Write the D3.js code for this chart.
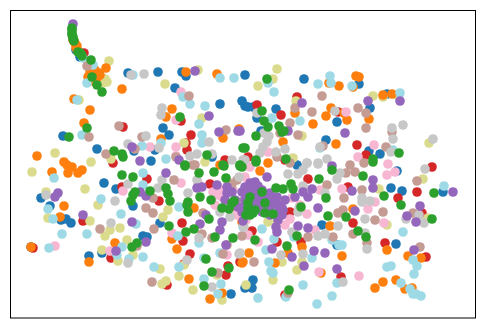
<!DOCTYPE html>
<html>
<head>
<meta charset="utf-8">
<script src="https://cdn.jsdelivr.net/npm/d3@7"></script>
<style>
    html, body { margin: 0; padding: 0; background: #fff; }
    svg { display: block; }
</style>
</head>
<body>
<svg id="scatter" width="485" height="328"></svg>
<script>
// values, one list per colour, in back-to-front order
const blue = [[118,63],[148,62],[172,62],[176,66],[165,78],[210,94],[232,91],[235,65],[53,126],[153,118],[159,125],[87,139],[141,151],[124,141],[145,140],[202,147],[235,96],
    [238,97],[243,97],[247,108],[266,99],[349,74],[360,98],[294,69],[377,84],[327,112],[316,130],[359,141],[370,144],[287,155],[251,121],
    [94,173],[106,179],[31,188],[40,196],[51,210],[56,209],[61,213],[123,196],[150,213],[133,226],[137,227],[79,246],[92,243],[21,237],[235,278],[221,284],
    [381,178],[392,181],[433,182],[386,234],[312,215],[243,270],[242,278],[387,161],[327,235],[66,40],[70,47]];
const red = [[74,43],[113,117],[171,111],[181,125],[176,133],[103,153],[177,140],[215,150],
    [287,87],[247,95],[271,105],[328,102],[347,135],[356,145],[422,157],[238,147],[275,150],
    [137,169],[112,177],[149,191],[73,211],[172,213],[173,231],[23,238],[101,248],[180,244],[174,254],[157,275],[216,265],[218,256],[230,252],[200,174],
    [298,169],[338,177],[407,182],[388,188],[343,213],[375,233],[416,247],[331,267],[291,232],[280,202],[242,221],[267,232],[412,203],[275,285],[225,196],[235,208]];
const khaki = [[99,51],[95,69],[93,73],[155,74],[69,90],[188,60],[192,108],[45,143],[81,152],[101,149],[174,133],[195,152],
    [267,59],[248,76],[263,69],[286,91],[292,126],[363,86],[373,87],[419,133],[283,148],[387,85],
    [22,162],[75,179],[88,195],[36,182],[38,208],[80,211],[110,218],[100,220],[95,226],[117,230],[92,240],[108,251],[123,245],[150,259],[169,266],[156,271],[152,274],[183,280],[212,290],[207,265],[158,200],[153,207],[174,255],
    [413,169],[377,215],[369,179],[292,252],[287,260],[272,252],[263,270],[236,275],[258,212],[418,208],[267,212],[97,72]];
const orange = [[65,33],[96,58],[89,63],[82,65],[80,62],[87,68],[112,79],[64,89],[80,100],[74,113],[27,146],[54,152],[176,62],[207,64],[162,99],[156,107],[151,129],[229,119],[213,128],[63,30],[67,36],
    [346,66],[349,67],[319,73],[329,76],[343,77],[373,85],[382,84],[285,103],[303,114],[316,106],[321,98],[334,103],[337,110],[359,109],[326,134],[273,132],[258,153],
    [42,162],[57,155],[62,157],[58,163],[68,163],[72,160],[54,196],[50,207],[105,233],[79,252],[21,237],[162,229],[167,239],[179,269],[200,289],[212,283],[184,198],[210,155],[232,253],[232,212],
    [250,161],[239,243],[233,252],[265,253],[278,243],[292,237],[332,246],[311,263],[320,216],[343,199],[377,240],[398,246],[411,248],[365,278],[373,272],[386,270],[395,279],[402,278],
    [64,31],[66,38],[68,41],[85,60],[78,67],[85,72],[90,65],[82,60]];
const pink = [[171,82],[166,110],[140,137],[166,137],[166,146],[258,142],[364,135],[348,147],[378,154],[336,102],
    [171,173],[45,236],[113,181],[100,241],[162,223],[203,182],[207,185],[228,202],[188,173],[217,245],[235,167],
    [240,157],[377,165],[385,162],[310,180],[332,179],[365,192],[358,199],[374,213],[349,266],[309,262],[280,209],[297,204],[305,220],[238,225],[248,232],[282,188],[230,200],
    [212,187],[220,195],[227,205],[205,195],[223,180],[210,180],[232,205],[236,210],[218,172],[275,215],[290,195]];
const cyan = [[73,48],[83,55],[77,73],[67,90],[123,65],[210,68],[224,68],[173,87],[180,94],[195,96],[189,114],[192,125],[192,133],[72,125],[132,136],[151,133],[156,149],
    [258,73],[264,82],[308,74],[320,66],[321,73],[342,76],[390,83],[262,108],[290,111],[310,138],[383,140],
    [44,168],[133,163],[133,175],[91,189],[38,199],[43,209],[111,204],[126,214],[77,224],[52,224],[39,238],[112,237],[107,245],[119,249],[133,247],[144,257],[169,257],[169,197],[168,226],[189,233],[194,248],[194,269],[211,274],[208,284],[210,243],
    [393,222],[434,176],[329,235],[332,235],[302,248],[256,240],[259,252],[261,261],[263,263],[327,273],[293,275],[276,287],[248,288],[307,294],[322,286],[377,257],[381,256],[403,250],[407,256],[404,264],[391,273],[400,279],[403,284],[411,286],[406,284],[264,229],[252,219],[233,217],[284,227],[322,230]];
const brown = [[77,56],[179,86],[109,116],[79,127],[132,127],[216,120],[96,144],[125,139],[183,155],[166,147],
    [312,86],[285,98],[302,102],[348,98],[356,103],[356,118],[280,113],[288,125],[382,122],[376,137],[313,136],[270,123],[267,147],[340,155],[354,153],[280,153],
    [164,170],[143,188],[136,198],[143,203],[90,219],[144,219],[142,272],[202,228],[213,244],[208,263],[227,170],[193,203],[192,224],[217,235],[127,236],[185,155],[230,192],
    [407,171],[410,237],[373,202],[365,210],[403,203],[336,163],[345,162],[317,175],[352,180],[334,188],[333,200],[328,203],[343,224],[357,233],[298,227],[323,227],[244,252],[232,226],[278,283],[222,174],[236,195]];
const gray = [[121,65],[134,64],[152,98],[151,105],[136,126],[118,134],[149,138],[199,132],[187,144],[180,146],[222,150],[235,150],[202,144],
    [325,101],[382,118],[393,115],[383,129],[423,129],[381,142],[310,137],[259,126],[257,132],[253,137],[250,143],[266,142],[275,139],[297,153],[308,153],[317,149],[254,123],[233,150],[247,103],
    [36,185],[105,191],[118,174],[101,213],[118,253],[148,178],[152,170],[178,183],[189,228],[177,250],[229,244],[202,277],[229,167],[220,207],[234,217],[187,170],[210,202],
    [415,159],[278,164],[288,164],[293,160],[297,153],[308,154],[327,169],[330,163],[293,176],[315,183],[352,188],[360,191],[352,192],[288,202],[289,198],[355,209],[396,209],[409,205],[414,213],[315,224],[308,226],[328,216],[355,223],[357,239],[282,222],[293,244],[271,245],[333,272],[230,243]];
const purple = [[63,14],[185,61],[199,106],[209,122],[228,121],[122,137],[130,151],[169,150],
    [292,93],[358,91],[390,91],[335,123],[278,121],[322,156],[230,121],
    [156,163],[45,187],[48,183],[73,205],[122,212],[136,232],[106,241],[130,182],[136,186],[190,214],[196,205],[212,212],[210,220],[216,235],[207,175],[187,178],[192,177],[217,177],[217,183],[222,182],[232,182],[215,190],[233,211],
    [240,173],[245,172],[257,167],[233,182],[240,183],[247,182],[260,183],[267,187],[263,193],[272,198],[268,210],[266,217],[267,222],[258,197],[235,190],[250,190],[285,187],[293,182],[298,187],[302,179],[308,198],[288,216],[298,218],[262,239],[282,247],[304,241],[315,243],[294,256],[327,259],[404,240],[342,181],[345,201],[363,170],[363,178],[410,196],[397,206],[406,212],[443,182],[273,200],
    [235,177],[242,177],[248,176],[252,180],[238,187],[245,190],[255,187],[260,190],[265,194],[240,197],[248,197],[260,197],[268,203],[272,205],[235,195],[232,202],[252,202],[260,205],[268,195],[275,190],[225,190],[228,197]];
const green = [[62,18],[62,20],[62,23],[62,25],[63,27],[63,29],[64,31],[70,43],[68,42],[71,44],[72,46],[81,50],[82,67],[87,75],[92,82],[77,118],[59,127],[170,107],[104,141],[112,144],[113,147],[197,145],[233,138],[175,155],[213,155],[230,155],
    [257,69],[252,101],[254,111],[258,117],[269,116],[272,122],[274,121],[246,126],[235,138],[246,150],[276,149],[363,149],[389,143],
    [112,165],[123,167],[125,182],[123,185],[121,191],[140,181],[156,178],[158,184],[160,191],[190,187],[178,192],[177,195],[178,202],[201,190],[189,163],[204,162],[216,168],[175,156],[214,156],[230,156],[199,209],[159,216],[184,219],[176,222],[122,237],[127,233],[205,227],[223,228],[196,249],[202,262],[219,258],[194,276],[212,198],[219,199],[222,193],[224,191],
    [232,157],[246,152],[363,152],[353,166],[322,160],[309,169],[266,178],[273,179],[281,174],[283,179],[240,187],[252,182],[255,193],[238,193],[245,200],[240,205],[255,203],[263,204],[291,197],[316,188],[318,206],[336,207],[348,221],[356,227],[374,186],[391,195],[424,183],[422,209],[287,226],[245,230],[277,236],[279,280],[238,198],[243,203],[236,205]];

const seriesList = [blue, red, khaki, orange, pink, cyan, brown, gray, purple, green];
const colors = ['#1f77b4', '#d62728', '#dbdb8d', '#ff7f0e', '#f7b6d2', '#9edae5', '#c49c94', '#c7c7c7', '#9467bd', '#2ca02c'];

const pointRadius = 4.8,
    svg = d3.select('#scatter');

const xScale = d3.scaleLinear().domain([0.5, 465.5]).range([10.5, 475.5]);
const yScale = d3.scaleLinear().domain([0.5, 308]).range([10.5, 318]);

const g = svg.append('g');
for (let i = 0; i < seriesList.length; i++) {
    g.append('g').attr('fill', colors[i])
        .selectAll('circle')
        .data(seriesList[i])
        .join('circle')
        .attr('cx', function (d) { return xScale(d[0]); })
        .attr('cy', function (d) { return yScale(d[1]); })
        .attr('r', pointRadius);
}

// plain frame, the chart has no ticks
svg.append('rect')
    .attr('x', xScale.range()[0]).attr('y', yScale.range()[0])
    .attr('width', xScale.range()[1] - xScale.range()[0])
    .attr('height', yScale.range()[1] - yScale.range()[0])
    .attr('fill', 'none')
    .attr('stroke', '#000')
    .attr('stroke-width', 1);
</script>
</body>
</html>
